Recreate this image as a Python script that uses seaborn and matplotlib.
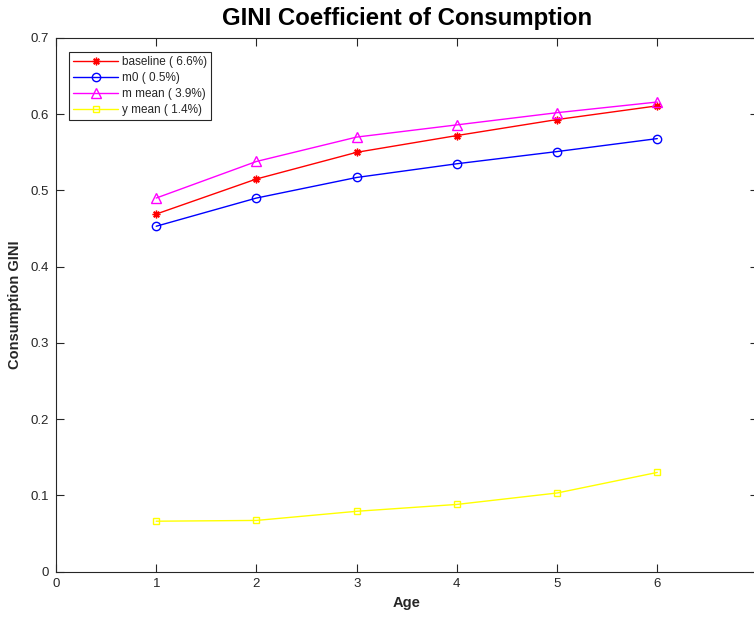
import matplotlib
matplotlib.use("Agg")
import matplotlib.pyplot as plt
import seaborn as sns
import pandas as pd

ages = [1, 2, 3, 4, 5, 6]
baseline = [0.469, 0.515, 0.550, 0.572, 0.593, 0.611]
m0 = [0.453, 0.490, 0.517, 0.535, 0.551, 0.568]
m_mean = [0.490, 0.538, 0.570, 0.586, 0.602, 0.616]
y_mean = [0.066, 0.067, 0.079, 0.088, 0.103, 0.130]

labels = ["baseline ( 6.6%)", "m0 ( 0.5%)", "m mean ( 3.9%)", "y mean ( 1.4%)"]
series = [baseline, m0, m_mean, y_mean]
colors = ["#FF0000", "#0000FF", "#FF00FF", "#FFFF00"]
markers = [(8, 2, 0), "o", "^", "s"]
msizes = [5.5, 6, 6.5, 4.5]

sns.set_style("white")
plt.rcParams["font.family"] = ["Liberation Sans", "DejaVu Sans"]

fig = plt.figure(figsize=(7.54, 6.19), dpi=100)
ax = fig.add_axes([56 / 754, (619 - 571.5) / 619, 701.5 / 754, 533.5 / 619])

for lab, vals, c, m, ms in zip(labels, series, colors, markers, msizes):
    df = pd.DataFrame({"Age": ages, "GINI": vals})
    sns.lineplot(data=df, x="Age", y="GINI", ax=ax, color=c, marker=m,
                 markersize=ms, markerfacecolor="none", markeredgecolor=c,
                 markeredgewidth=1.0, linewidth=1.0, label=lab)

ax.set_xlim(0, 7)
ax.set_ylim(0, 0.7)
ax.set_xticks([0, 1, 2, 3, 4, 5, 6])
ax.set_yticks([0, 0.1, 0.2, 0.3, 0.4, 0.5, 0.6, 0.7])
ax.set_yticklabels(["0", "0.1", "0.2", "0.3", "0.4", "0.5", "0.6", "0.7"])
ax.tick_params(direction="in", length=6, width=0.8, colors="#262626",
               labelsize=9.5, top=True, right=True, bottom=True, left=True,
               labelcolor="#262626", pad=5)
for s in ax.spines.values():
    s.set_color("#262626")
    s.set_linewidth(0.8)

ax.set_xlabel("Age", fontsize=10.5, fontweight="bold", color="#262626", labelpad=4)
ax.set_ylabel("Consumption GINI", fontsize=10.5, fontweight="bold", color="#262626", labelpad=6)
ax.set_title("GINI Coefficient of Consumption", fontsize=17.3, fontweight="bold",
             color="black", pad=9)

leg = ax.legend(loc="upper left", bbox_to_anchor=(0.0185, 0.974), borderaxespad=0,
                fontsize=8.5, handlelength=3.8, labelspacing=0.33, fancybox=False,
                framealpha=1, edgecolor="#262626", borderpad=0.35, handletextpad=0.35)
leg.get_frame().set_linewidth(0.8)

fig.savefig("out.png", dpi=100, facecolor="white")
